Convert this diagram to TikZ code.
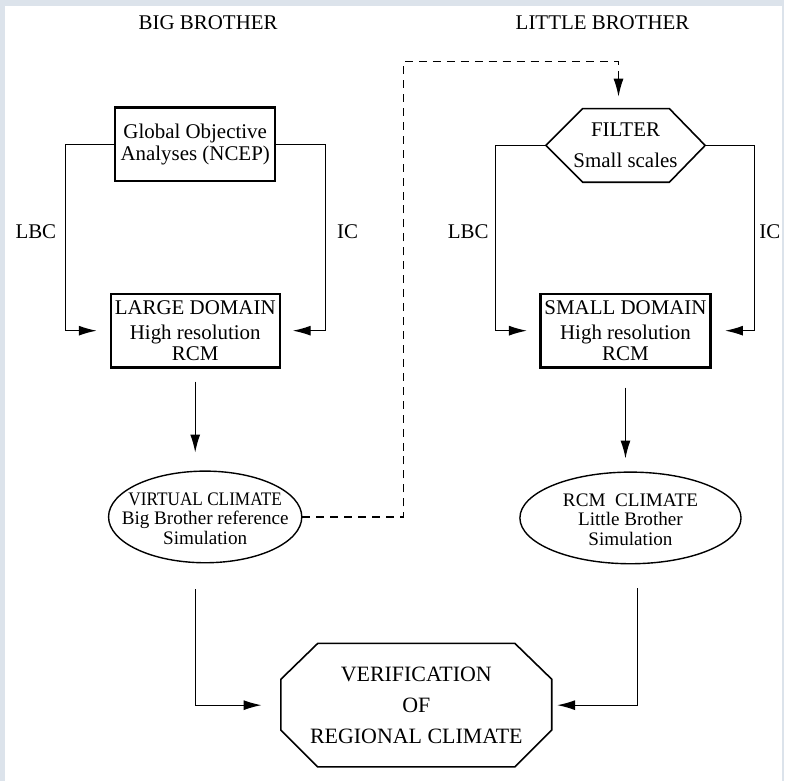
\documentclass[tikz,border=0pt]{standalone}
\usepackage{graphicx}
\usepackage{fontspec}
\setmainfont{Liberation Serif}
\usetikzlibrary{arrows.meta,shapes.geometric}
\definecolor{framegray}{HTML}{DCE3EB}

\begin{document}
\begin{tikzpicture}[x=0.5pt,y=-0.5pt]
	\tikzstyle{every node}=[font=\fontsize{10.5}{12.6}\selectfont]
	\tikzstyle{box}=[draw,line width=1.1pt,minimum width=80.5pt,minimum height=37pt,align=center,inner sep=2pt]
	\tikzstyle{ell}=[draw,ellipse,line width=0.7pt,minimum height=46pt,inner sep=0pt]
	\tikzstyle{elltext}=[align=center,font=\fontsize{9.6}{10.2}\selectfont]
	\tikzstyle{shapeline}=[line width=0.8pt,line join=miter]
	\tikzstyle{arr}=[line width=0.6pt,-{Latex[length=9pt,width=5pt]}]
	\tikzstyle{dasharr}=[arr,dash pattern=on 4pt off 3pt]
	% frame
	\fill[framegray] (0,0) rectangle (787,784);
	\fill[white] (5,6) rectangle (785,784);
	% titles
	\node (bigtitle) at (209,23) {BIG BROTHER};
	\node (littletitle) at (605,23) {LITTLE BROTHER};
	% big brother
	\node[box] (global) at (196,145) {Global Objective\\[-1.5pt]Analyses (NCEP)};
	\node[box] (large) at (196,332) {LARGE DOMAIN\\High resolution\\[-2.5pt]RCM};
	\node[ell,minimum width=97pt,label={[elltext,yshift=-1pt]center:\scalebox{0.9}[1]{VIRTUAL CLIMATE}\\[-0.5pt]Big Brother reference\\Simulation}] (virtual) at (206,519) {};
	\node (lbcA) at (36,233) {LBC};
	\node (icA) at (349,233) {IC};
	% little brother
	\node[minimum width=80pt,minimum height=37pt,inner sep=0pt,align=center] (filter) at (628,146) {FILTER\\[3pt]Small scales};
	\draw[shapeline] (548,146) -- (585,109) -- (672,109) -- (708,146) -- (672,183) -- (585,183) -- cycle;
	\node[box] (small) at (628,332) {SMALL DOMAIN\\High resolution\\[-2.5pt]RCM};
	\node[ell,minimum width=111pt,label={[elltext,yshift=-1pt]center:RCM\ \ CLIMATE\\[-0.5pt]Little Brother\\Simulation}] (rcm) at (633,520) {};
	\node (lbcB) at (470,233) {LBC};
	\node (icB) at (773,233) {IC};
	% verification
	\node[minimum width=136pt,minimum height=62pt,align=center,inner sep=0pt,font=\fontsize{11}{13.2}\selectfont] (verif) at (418,708) {VERIFICATION\\[2.5pt]OF\\[2.5pt]REGIONAL CLIMATE};
	\draw[shapeline] (282,682) -- (319,646) -- (517,646) -- (554,682) -- (554,733) -- (517,770) -- (319,770) -- (282,733) -- cycle;
	\coordinate (dashtop) at (405,62);
	\coordinate (filtertop) at (621,109);
	% connectors
	\draw[arr,shorten >=6.5pt] (global.west) -- ++(-49,0) |- (large.west);
	\draw[arr,shorten >=6pt] (global.east) -- ++(49,0) |- (large.east);
	\draw[arr,shorten >=6.25pt] (filter.west) -- ++(-50,0) |- (small.west);
	\draw[arr,shorten >=6.75pt] (filter.east) -- ++(49,0) |- (small.east);
	\draw[arr,shorten <=6.5pt,shorten >=9pt] (large.south) -- (large.south |- virtual.north);
	\draw[arr,shorten <=9.5pt,shorten >=6.5pt] (small.south) -- (small.south |- rcm.north);
	\draw[dasharr,shorten >=6pt] (virtual.east) -| (dashtop) -| (filtertop);
	\draw[arr,shorten <=13pt,shorten >=9.5pt] ([xshift=-5pt]virtual.south) |- (verif.west);
	\draw[arr,shorten <=12pt,shorten >=2.5pt] ([xshift=3.5pt]rcm.south) |- (verif.east);
\end{tikzpicture}
\end{document}
